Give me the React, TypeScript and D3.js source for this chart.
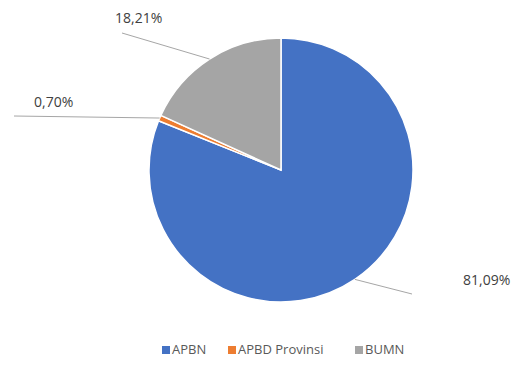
import React from "react";
import * as d3 from "d3";

const categories = ["APBN", "APBD Provinsi", "BUMN"];
const values = [81.09, 0.7, 18.21];
const labels = ["81,09%", "0,70%", "18,21%"];
const colors = ["#4472C4", "#ED7D31", "#A5A5A5"];

const W = 512;
const H = 365;
const cx = 281;
const cy = 170;
const R = 132;

// label layout: leader end point and text anchor
const labelLayout = [
  { lx: 412, ly: 294, tx: 463, ty: 285, anchor: "start" },
  { lx: 14, ly: 116, tx: 34, ty: 107, anchor: "start" },
  { lx: 122, ly: 33, tx: 115, ty: 23, anchor: "start" },
];

const legendX = [162, 228, 355];
const legendY = 349;

export default function App() {
  const pie = d3.pie<number>().sort(null).value((d) => d);
  const arcs = pie(values);
  const arc = d3.arc<d3.PieArcDatum<number>>().innerRadius(0).outerRadius(R);
  const rimArc = d3.arc<d3.PieArcDatum<number>>().innerRadius(R).outerRadius(R);

  return (
    <svg
      width={W}
      height={H}
      style={{ position: "absolute", left: 0, top: 0, background: "#fff" }}
      fontFamily="'Open Sans', 'Liberation Sans', sans-serif"
    >
      <g transform={`translate(${cx},${cy})`}>
        {arcs.map((a, i) => (
          <path key={i} d={arc(a) || ""} fill={colors[i]} stroke="#fff" strokeWidth={1.5} />
        ))}
      </g>
      {arcs.map((a, i) => {
        const [px, py] = rimArc.centroid(a);
        const L = labelLayout[i];
        return (
          <g key={"l" + i}>
            <line x1={cx + px} y1={cy + py} x2={L.lx} y2={L.ly} stroke="#A6A6A6" strokeWidth={1} />
            <text x={L.tx} y={L.ty} fontSize={14} fill="#404040" textAnchor={L.anchor}>
              {labels[i]}
            </text>
          </g>
        );
      })}
      {categories.map((c, i) => (
        <g key={"lg" + i} transform={`translate(${legendX[i]},${legendY})`}>
          <rect x={0} y={-3} width={8} height={8} fill={colors[i]} />
          <text x={10} y={5} fontSize={13} fill="#595959">
            {c}
          </text>
        </g>
      ))}
    </svg>
  );
}
